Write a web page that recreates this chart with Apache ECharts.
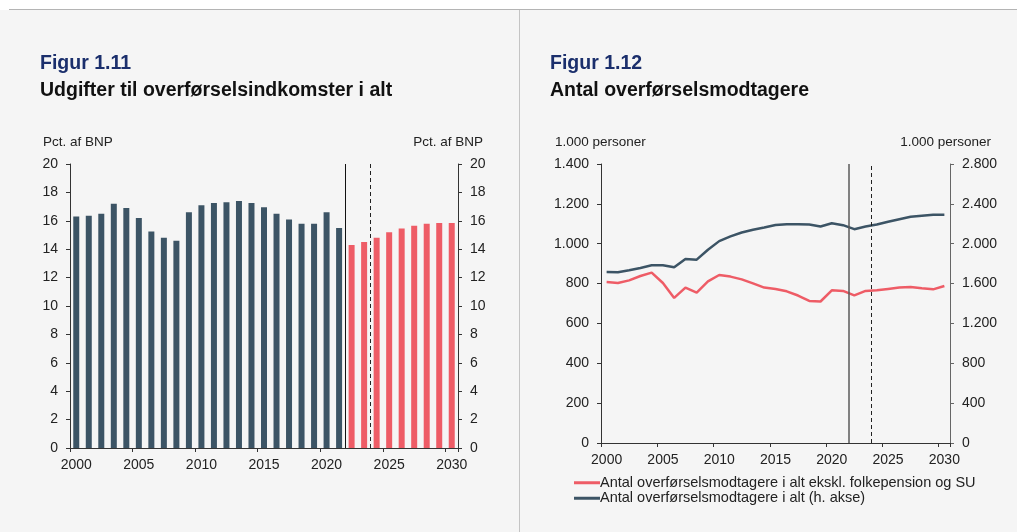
<!DOCTYPE html>
<html>
<head>
<meta charset="utf-8">
<script src="https://cdn.jsdelivr.net/npm/echarts@6/dist/echarts.min.js"></script>
<style>
  html, body { margin: 0; padding: 0; background: #ffffff; }
  #main { width: 1017px; height: 532px; }
</style>
</head>
<body>
<div id="main"></div>
<script>
"use strict";

// fælles årsakse for begge figurer
var years = [];
for (var y = 2000; y <= 2030; y++) years.push(String(y));

// Figur 1.11 - pct. af BNP (historik 2000-2021, fremskrivning 2022-2030)
var historyShare = [16.3, 16.35, 16.5, 17.2, 16.9, 16.2, 15.25, 14.8, 14.6, 16.6,
                    17.1, 17.25, 17.3, 17.4, 17.25, 16.95, 16.5, 16.1, 15.8, 15.8,
                    16.6, 15.5];
var forecastShare = [14.3, 14.5, 14.8, 15.2, 15.45, 15.65, 15.8, 15.85, 15.85];

// Figur 1.12 - 1.000 personer
var recipientsExcl = [808, 803, 816, 838, 855, 803, 728, 780, 755, 811,
                      843, 835, 821, 801, 780, 773, 761, 740, 713, 710,
                      766, 763, 741, 763, 766, 773, 780, 783, 776, 771,
                      788];
var recipientsTotal = [1716, 1713, 1733, 1756, 1783, 1783, 1763, 1846, 1840, 1940,
                       2026, 2073, 2113, 2140, 2163, 2188, 2196, 2196, 2193, 2173,
                       2206, 2186, 2146, 2173, 2193, 2220, 2246, 2270, 2280, 2290,
                       2290];

// lodrette skillelinjer (mellem 2021/2022 og 2023/2024)
var splitYears = [2021.5, 2023.5];

var legendNames = ['Antal overførselsmodtagere i alt ekskl. folkepension og SU',
                   'Antal overførselsmodtagere i alt (h. akse)'];

var navy = '#1b2f6c';
var dark = '#3c5465';
var red = '#ee5c66';
var font = 'Liberation Sans, Arial, sans-serif';

function dot(v) {
    return String(v).replace(/\B(?=(\d{3})+(?!\d))/g, '.');
}

var historyData = years.map(function (_, i) { return i < historyShare.length ? historyShare[i] : '-'; });
var forecastData = years.map(function (_, i) {
    var k = i - historyShare.length;
    return k >= 0 ? forecastShare[k] : '-';
});

function catAxis(grid) {
    return {
        type: 'category', gridIndex: grid, data: years, boundaryGap: true,
        axisLine: { lineStyle: { color: '#333', width: 1 } },
        axisTick: { show: true, length: 4, lineStyle: { color: '#333' } },
        axisLabel: { interval: 4, margin: 10, fontSize: 14, color: '#222', fontFamily: font }
    };
}
function hiddenAxis(grid) {
    return { type: 'value', gridIndex: grid, min: 1999.5, max: 2030.5, show: false };
}
function valAxis(grid, pos, max, interval, fmt, lineColor) {
    return {
        type: 'value', gridIndex: grid, position: pos, min: 0, max: max, interval: interval,
        axisLine: { show: true, lineStyle: { color: lineColor, width: 1 } },
        axisTick: { show: true, length: 4, lineStyle: { color: lineColor } },
        splitLine: { show: false },
        axisLabel: { margin: 12, fontSize: 14, color: '#222', fontFamily: font, formatter: fmt }
    };
}
function splitLines(xIndex, yIndex, solidColor, solidWidth) {
    return {
        type: 'scatter', xAxisIndex: xIndex, yAxisIndex: yIndex, data: [], silent: true,
        markLine: {
            silent: true, symbol: 'none', animation: false,
            label: { show: false },
            data: [
                { xAxis: splitYears[0], lineStyle: { type: 'solid', color: solidColor, width: solidWidth } },
                { xAxis: splitYears[1], lineStyle: { type: [4, 3], color: '#222', width: 1 } }
            ]
        }
    };
}

var chart = echarts.init(document.getElementById('main'), null, { renderer: 'canvas' });

var unitStyle = { color: '#222', fontSize: 13.5, fontWeight: 'normal', fontFamily: font };
var figStyle = { color: navy, fontSize: 19.5, fontWeight: 'bold', fontFamily: font };
var headStyle = { color: '#111', fontSize: 19.5, fontWeight: 'bold', fontFamily: font };

chart.setOption({
    animation: false,
    textStyle: { fontFamily: font },
    graphic: [
        { type: 'rect', shape: { x: 0, y: 10, width: 1017, height: 522 }, style: { fill: '#f5f5f5' }, silent: true },
        { type: 'line', shape: { x1: 9, y1: 9.5, x2: 1017, y2: 9.5 }, style: { stroke: '#b4b4b4', lineWidth: 1 }, silent: true },
        { type: 'line', shape: { x1: 519.5, y1: 10, x2: 519.5, y2: 532 }, style: { stroke: '#c4c4c4', lineWidth: 1 }, silent: true }
    ],
    title: [
        { text: 'Figur 1.11', left: 35, top: 49, textStyle: figStyle },
        { text: 'Udgifter til overførselsindkomster i alt', left: 35, top: 76, textStyle: headStyle },
        { text: 'Pct. af BNP', left: 38, top: 130, textStyle: unitStyle },
        { text: 'Pct. af BNP', right: 529, top: 130, textStyle: unitStyle },
        { text: 'Figur 1.12', left: 545, top: 49, textStyle: figStyle },
        { text: 'Antal overførselsmodtagere', left: 545, top: 76, textStyle: headStyle },
        { text: '1.000 personer', left: 550, top: 130, textStyle: unitStyle },
        { text: '1.000 personer', right: 21, top: 130, textStyle: unitStyle }
    ],
    legend: {
        orient: 'vertical', left: 574, top: 475, itemGap: 0, padding: 0,
        itemWidth: 26, itemHeight: 3, icon: 'rect',
        data: legendNames,
        textStyle: { fontSize: 14.5, lineHeight: 15.5, color: '#222', fontFamily: font, padding: [0, 0, 0, -5] }
    },
    grid: [
        { left: 70, top: 164, width: 388, height: 284, containLabel: false },
        { left: 601, top: 164, width: 349, height: 279, containLabel: false }
    ],
    xAxis: [catAxis(0), hiddenAxis(0), catAxis(1), hiddenAxis(1)],
    yAxis: [
        valAxis(0, 'left', 20, 2, null, '#333'),
        valAxis(0, 'right', 20, 2, null, '#333'),
        valAxis(1, 'left', 1400, 200, dot, '#333'),
        valAxis(1, 'right', 2800, 400, dot, '#666')
    ],
    series: [
        { type: 'bar', xAxisIndex: 0, yAxisIndex: 0, data: historyData, barWidth: 6, barGap: '-100%', itemStyle: { color: dark } },
        { type: 'bar', xAxisIndex: 0, yAxisIndex: 0, data: forecastData, barWidth: 6, barGap: '-100%', itemStyle: { color: red } },
        splitLines(1, 0, '#111', 1),
        splitLines(3, 2, '#5a5a5a', 1.5),
        { name: legendNames[0], type: 'line', xAxisIndex: 2, yAxisIndex: 2, data: recipientsExcl, symbol: 'none',
          lineStyle: { color: red, width: 2.5 }, itemStyle: { color: red } },
        { name: legendNames[1], type: 'line', xAxisIndex: 2, yAxisIndex: 3, data: recipientsTotal, symbol: 'none',
          lineStyle: { color: dark, width: 2.5 }, itemStyle: { color: dark } }
    ]
});
</script>
</body>
</html>
